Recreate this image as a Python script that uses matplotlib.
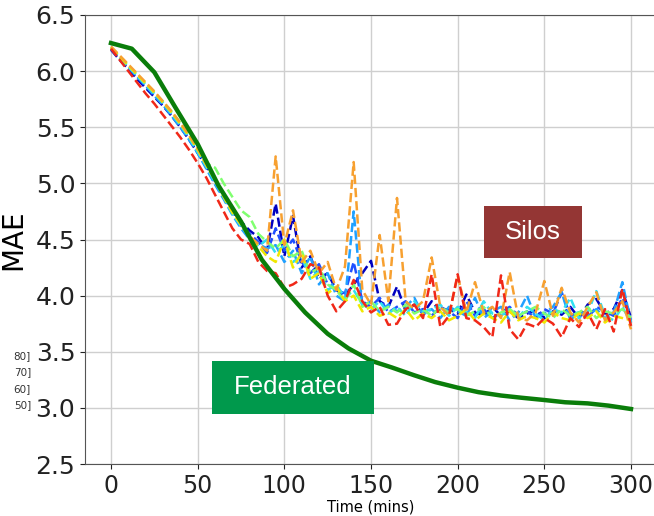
import matplotlib
matplotlib.use("Agg")
import matplotlib.pyplot as plt
from matplotlib.patches import Rectangle

# silo runs: MAE sampled every 5 minutes, 0..300
silo_time = list(range(0, 305, 5))

silo_navy = [6.19, 6.10, 6.02, 5.93, 5.85, 5.77, 5.69, 5.60, 5.50, 5.39, 5.27, 5.15, 5.02, 4.90, 4.75, 4.66, 4.58, 4.52, 4.40,
             4.82, 4.35, 4.71, 4.25, 4.35, 4.15, 4.20, 4.05, 4.00, 4.10, 4.20, 4.31, 3.95, 3.90, 4.08, 3.86, 3.92, 3.84, 3.95, 3.86, 3.88,
             3.84, 4.01, 3.85, 3.82, 3.90, 3.82, 3.86, 3.80, 3.84, 3.87, 3.80, 3.86, 3.83, 3.90, 3.80, 3.92, 3.97, 3.84, 3.88, 4.05, 3.80]
silo_blue = [6.20, 6.11, 6.03, 5.95, 5.87, 5.79, 5.70, 5.61, 5.51, 5.40, 5.28, 5.14, 5.00, 4.87, 4.74, 4.62, 4.55, 4.48, 4.38,
             4.60, 4.40, 4.50, 4.30, 4.20, 4.28, 4.10, 4.05, 4.02, 4.30, 3.95, 3.90, 3.98, 3.85, 3.90, 3.95, 3.85, 3.88, 3.82, 3.90, 3.86,
             3.80, 3.95, 3.82, 3.88, 3.80, 3.85, 3.90, 3.82, 3.86, 3.80, 3.88, 3.84, 4.03, 3.82, 3.85, 3.80, 3.90, 3.86, 3.82, 3.98, 3.78]
silo_sky = [6.21, 6.12, 6.04, 5.95, 5.87, 5.78, 5.70, 5.60, 5.50, 5.39, 5.27, 5.13, 4.99, 4.86, 4.72, 4.60, 4.50, 4.46, 4.42,
            4.45, 4.30, 4.40, 4.20, 4.35, 4.10, 4.20, 4.00, 3.95, 4.75, 3.90, 3.95, 3.85, 3.92, 3.86, 3.90, 3.98, 3.83, 3.88, 3.80, 3.90,
            3.86, 3.82, 3.98, 3.80, 3.86, 3.90, 3.78, 3.85, 4.00, 3.80, 3.84, 3.90, 4.03, 3.78, 3.86, 3.82, 3.88, 3.80, 3.85, 4.12, 3.76]
silo_cyan = [6.20, 6.12, 6.04, 5.96, 5.88, 5.80, 5.72, 5.62, 5.52, 5.41, 5.28, 5.15, 5.01, 4.88, 4.73, 4.62, 4.52, 4.44, 4.50,
             4.38, 4.45, 4.30, 4.35, 4.15, 4.22, 4.05, 4.10, 3.98, 4.05, 3.92, 3.88, 3.95, 3.84, 3.90, 3.82, 3.95, 3.86, 3.88, 3.92, 3.82,
             3.90, 3.85, 3.80, 3.95, 3.84, 3.82, 3.88, 3.80, 3.90, 3.84, 3.78, 3.88, 3.85, 3.98, 3.80, 3.85, 4.04, 3.82, 3.78, 3.90, 3.76]
silo_lime = [6.21, 6.13, 6.05, 5.97, 5.89, 5.81, 5.73, 5.64, 5.54, 5.43, 5.30, 5.18, 5.14, 5.00, 4.88, 4.76, 4.70, 4.55, 4.48,
             4.42, 4.50, 4.35, 4.40, 4.20, 4.25, 4.10, 4.05, 3.95, 4.10, 3.90, 3.95, 3.86, 3.90, 3.85, 3.92, 3.84, 3.88, 3.82, 3.90, 3.85,
             3.88, 3.82, 3.86, 3.90, 3.80, 3.85, 3.88, 3.82, 3.86, 3.90, 3.84, 3.80, 3.88, 3.82, 3.85, 3.90, 3.80, 3.86, 3.84, 3.88, 3.80]
silo_yellow = [6.21, 6.13, 6.05, 5.97, 5.89, 5.81, 5.72, 5.63, 5.53, 5.42, 5.30, 5.16, 5.03, 4.88, 4.74, 4.63, 4.52, 4.44, 4.35,
               4.30, 4.50, 4.25, 4.38, 4.15, 4.20, 4.02, 4.08, 3.95, 4.00, 3.86, 3.90, 3.82, 3.85, 3.80, 3.88, 3.78, 3.84, 3.80, 3.86, 3.78,
               3.82, 3.88, 3.78, 3.84, 3.80, 3.76, 3.86, 3.78, 3.82, 3.80, 3.76, 3.85, 3.80, 3.78, 3.84, 3.80, 3.86, 3.76, 3.82, 3.80, 3.78]
silo_orange = [6.22, 6.14, 6.06, 5.98, 5.90, 5.82, 5.73, 5.64, 5.54, 5.43, 5.31, 5.17, 5.04, 4.90, 4.77, 4.64, 4.53, 4.46, 4.40,
               5.24, 4.45, 4.76, 4.30, 4.40, 4.20, 4.30, 4.05, 4.26, 5.19, 4.05, 3.92, 4.54, 3.95, 4.87, 3.95, 3.88, 3.95, 4.34, 3.90, 3.82,
               4.18, 3.85, 4.12, 3.85, 3.90, 3.80, 4.21, 3.80, 3.78, 3.85, 4.13, 3.82, 4.07, 3.85, 3.76, 3.90, 4.03, 3.78, 3.85, 3.95, 3.70]
silo_red = [6.20, 6.10, 6.00, 5.90, 5.80, 5.71, 5.61, 5.51, 5.41, 5.30, 5.18, 5.05, 4.90, 4.75, 4.60, 4.50, 4.46, 4.30, 4.22,
            4.20, 4.07, 4.10, 4.15, 4.28, 4.25, 4.00, 3.86, 3.95, 4.14, 3.95, 3.85, 3.90, 3.74, 3.75, 3.88, 3.92, 3.80, 4.19, 3.72, 3.82,
            4.19, 3.80, 3.78, 3.72, 3.63, 4.18, 3.70, 3.61, 3.75, 3.72, 3.80, 3.75, 3.63, 3.80, 3.72, 3.85, 3.70, 3.88, 3.68, 4.06, 3.73]

silo_series = [silo_navy, silo_blue, silo_sky, silo_cyan, silo_lime, silo_yellow, silo_orange, silo_red]
silo_colors = ["#0000c0", "#1f4fff", "#20a0ff", "#30e0f0", "#80ff70", "#f0e800", "#f7a030", "#f02818"]

# federated model
fed_time = [0, 12, 25, 37, 50, 62, 75, 87, 100, 112, 125, 137, 150, 162, 175, 187, 200, 212, 225, 237, 250, 262, 275, 287, 300]
fed_mae = [6.25, 6.20, 5.99, 5.68, 5.35, 4.98, 4.66, 4.32, 4.06, 3.85, 3.66, 3.53, 3.42, 3.36, 3.29, 3.23, 3.18, 3.14, 3.11,
           3.09, 3.07, 3.05, 3.04, 3.02, 2.99]

legend_scraps = ["80]", "70]", "60]", "50]"]

W, H = 654, 516
fig = plt.figure(figsize=(W / 100, H / 100), dpi=100)
ax = fig.add_axes([85 / W, 1 - 464 / H, (657 - 85) / W, (464 - 15) / H])

for vals, col in zip(silo_series, silo_colors):
    ax.plot(silo_time, vals, "--", color=col, lw=1.8, zorder=2)
ax.plot(fed_time, fed_mae, color="#0a7d0a", lw=3.2, zorder=3)

ax.set_xlim(-15, 315)
ax.set_ylim(2.5, 6.5)
ax.set_xticks([0, 50, 100, 150, 200, 250, 300])
ax.set_yticks([2.5, 3.0, 3.5, 4.0, 4.5, 5.0, 5.5, 6.0, 6.5])
ax.set_yticklabels(["2.5", "3.0", "3.5", "4.0", "4.5", "5.0", "5.5", "6.0", "6.5"])
ax.grid(True, color="#cfcfcf", lw=1)
ax.set_axisbelow(True)
ax.tick_params(axis="x", labelsize=17, colors="#222222", pad=4)
ax.tick_params(axis="y", labelsize=18, colors="#222222")
for sp in ax.spines.values():
    sp.set_color("#555555")
ax.set_xlabel("Time (mins)", fontsize=10.5, labelpad=1)
ax.set_ylabel("MAE", fontsize=20, labelpad=6)


def box(x0, y0, x1, y1, color, label):
    fig.patches.append(Rectangle((x0 / W, 1 - y1 / H), (x1 - x0) / W, (y1 - y0) / H,
                                 transform=fig.transFigure, facecolor=color, edgecolor="none", zorder=5))
    fig.text((x0 + x1) / 2 / W, 1 - (y0 + y1) / 2 / H, label, color="white", fontsize=18.5,
             family="Liberation Sans", ha="center", va="center", zorder=6)


box(484, 206, 582, 258, "#943634", "Silos")
box(212, 361, 374, 414, "#00994c", "Federated")

for i, s in enumerate(legend_scraps):
    fig.text(31 / W, 1 - (356 + i * 16.5) / H, s, fontsize=7.5, color="#333333", ha="right", va="center")

fig.savefig("out.png", dpi=100)
